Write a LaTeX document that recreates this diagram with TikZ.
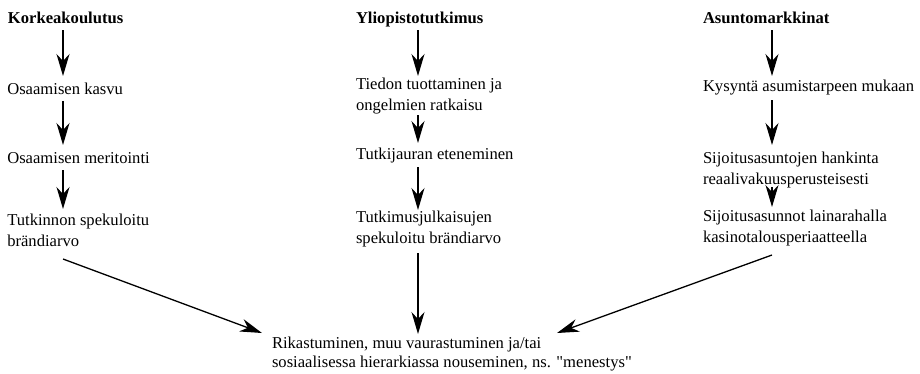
\documentclass[tikz,border=0pt]{standalone}
\usepackage{fontspec}
\setmainfont{Liberation Serif}[Ligatures=TeXOff]
\usetikzlibrary{arrows.meta}
\tikzset{
  txt/.style={inner sep=0pt, outer sep=0pt, anchor=north west, align=left,
    font=\fontsize{16.6}{21}\selectfont},
  ttl/.style={txt, font=\fontsize{16.6}{21}\selectfont\bfseries},
  bottxt/.style={inner sep=0pt, outer sep=0pt, anchor=north west, align=left,
    font=\fontsize{16.6}{18.4}\selectfont},
  arr/.style={line width=1.3pt, -{Stealth[length=22pt,width=13pt,inset=7pt]}}
}
\begin{document}
\begin{tikzpicture}[x=1pt,y=-1pt]
\useasboundingbox (0,0) rectangle (920,373);
\coordinate (c1) at (63,0);
\coordinate (c2) at (418,0);
\coordinate (c3) at (772,0);
% column 1
\node[ttl] (t1) at (8,8.3) {\strut Korkeakoulutus};
\node[txt] (n11) at (7.3,79.8) {\strut Osaamisen kasvu};
\node[txt] (n12) at (7.3,148.3) {\strut Osaamisen meritointi};
\node[txt] (n13) at (7.3,210.3) {\strut Tutkinnon spekuloitu\\\strut brändiarvo};
% column 2
\node[ttl] (t2) at (356,8.3) {\strut Yliopistotutkimus};
\node[txt] (n21) at (356,74.3) {\strut Tiedon tuottaminen ja\\\strut ongelmien ratkaisu};
\node[txt] (n22) at (356,144.3) {\strut Tutkijauran eteneminen};
\node[txt] (n23) at (356,207.3) {\strut Tutkimusjulkaisujen\\\strut spekuloitu brändiarvo};
% column 3
\node[ttl] (t3) at (703,8.3) {\strut Asuntomarkkinat};
\node[txt] (n31) at (703,76.3) {\strut Kysyntä asumistarpeen mukaan};
\node[txt] (n32) at (703,148.3) {\strut Sijoitusasuntojen hankinta\\\strut reaalivakuusperusteisesti};
\node[txt] (n33) at (703,206.3) {\strut Sijoitusasunnot lainarahalla\\\strut kasinotalousperiaatteella};
% bottom
\node[bottxt] (b) at (272,336.1) {\strut Rikastuminen, muu vaurastuminen ja/tai\\\strut sosiaalisessa hierarkiassa nouseminen, ns. "menestys"};
% arrows column 1
\draw[arr] ([yshift=-0.7pt]t1.south -| c1) -- ([yshift=3.8pt]n11.north -| c1);
\draw[arr] (n11.south -| c1) -- ([yshift=3.3pt]n12.north -| c1);
\draw[arr] ([yshift=-0.7pt]n12.south -| c1) -- ([yshift=1.3pt]n13.north -| c1);
% arrows column 2
\draw[arr] ([yshift=-0.7pt]t2.south -| c2) -- ([yshift=-1.7pt]n21.north -| c2);
\draw[arr] ([yshift=1.3pt]n21.south -| c2) -- ([yshift=1.3pt]n22.north -| c2);
\draw[arr] ([yshift=-1.7pt]n22.south -| c2) -- ([yshift=-2.7pt]n23.north -| c2);
\draw[arr] ([yshift=-3.7pt]n23.south -| c2) -- ([yshift=2.1pt]b.north -| c2);
% arrows column 3
\draw[arr] ([yshift=-0.7pt]t3.south -| c3) -- ([yshift=0.3pt]n31.north -| c3);
\draw[arr] ([yshift=-2.7pt]n31.south -| c3) -- ([yshift=3.3pt]n32.north -| c3);
\draw[arr] ([yshift=3.3pt]n32.south -| c3) -- ([yshift=-0.7pt]n33.north -| c3);
% diagonals
\draw[arr] ([yshift=-6.7pt]n13.south -| c1) -- ([shift={(-10pt,3.1pt)}]b.north west);
\draw[arr] ([yshift=-6.7pt]n33.south -| c3) -- ([shift={(285pt,3.1pt)}]b.north west);
\end{tikzpicture}
\end{document}
